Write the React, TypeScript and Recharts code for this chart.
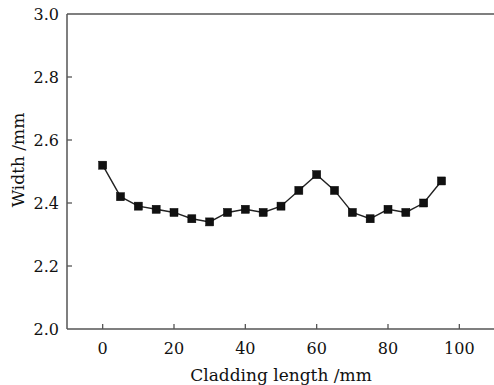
import React from "react";
import { LineChart, Line, XAxis, YAxis, ReferenceLine } from "recharts";

const claddingLength = [0, 5, 10, 15, 20, 25, 30, 35, 40, 45, 50, 55, 60, 65, 70, 75, 80, 85, 90, 95];
const widthValues = [2.52, 2.42, 2.39, 2.38, 2.37, 2.35, 2.34, 2.37, 2.38, 2.37, 2.39, 2.44, 2.49, 2.44, 2.37, 2.35, 2.38, 2.37, 2.40, 2.47];
const xTicks = [0, 20, 40, 60, 80, 100];
const yTicks = [2.0, 2.2, 2.4, 2.6, 2.8, 3.0];

const data = claddingLength.map((x, i) => ({ x, w: widthValues[i] }));

const FONT = "'DejaVu Serif', serif";
const AXIS = "#555";

const XTick = (props: any) => {
  const { x, y, payload } = props;
  return (
    <g>
      <line x1={x} x2={x} y1={y} y2={y - 5} stroke={AXIS} strokeWidth={1.3} />
      <text x={x} y={y + 25} textAnchor="middle" fontFamily={FONT} fontSize={16} fill="#111">
        {payload.value}
      </text>
    </g>
  );
};

const YTick = (props: any) => {
  const { x, y, payload } = props;
  const v = Number(payload.value);
  return (
    <g>
      {v > 2.0 && v < 3.0 && (
        <line x1={x} x2={x + 5} y1={y} y2={y} stroke={AXIS} strokeWidth={1.3} />
      )}
      <text x={x - 8} y={y} dy="0.36em" textAnchor="end" fontFamily={FONT} fontSize={16} fill="#111">
        {v.toFixed(1)}
      </text>
    </g>
  );
};

const SquareDot = (props: any) => {
  const { cx, cy } = props;
  if (cx == null || cy == null) return null;
  return <rect x={cx - 4} y={cy - 4} width={8} height={8} fill="#111" stroke="#000" strokeWidth={0.5} />;
};

const YLabel = () => (
  <text
    x={0}
    y={0}
    transform="translate(24, 160) rotate(-90)"
    textAnchor="middle"
    fontFamily={FONT}
    fontSize={17}
    fill="#111"
  >
    Width /mm
  </text>
);

export default function App() {
  return (
    <div style={{ position: "absolute", left: 0, top: 0, background: "#fff" }}>
      <LineChart
        width={500}
        height={385}
        data={data}
        margin={{ top: 14, right: 5, bottom: 0, left: 0 }}
      >
        <XAxis
          dataKey="x"
          type="number"
          domain={[-10, 110]}
          ticks={xTicks}
          tickSize={0}
          tickMargin={0}
          tickLine={false}
          height={56}
          axisLine={{ stroke: AXIS, strokeWidth: 1.5 }}
          tick={<XTick />}
          label={{
            value: "Cladding length /mm",
            position: "insideBottom",
            offset: 4,
            style: { fontFamily: FONT, fontSize: 17, fill: "#111" },
          }}
        />
        <YAxis
          type="number"
          domain={[2.0, 3.0]}
          ticks={yTicks}
          tickSize={0}
          tickMargin={0}
          tickLine={false}
          width={67}
          axisLine={{ stroke: AXIS, strokeWidth: 1.5 }}
          tick={<YTick />}
          label={<YLabel />}
        />
        <ReferenceLine y={3.0} stroke={AXIS} strokeWidth={1.5} />
        <ReferenceLine x={110} stroke={AXIS} strokeWidth={1.5} />
        <Line
          dataKey="w"
          stroke="#222"
          strokeWidth={1.4}
          dot={<SquareDot />}
          isAnimationActive={false}
        />
      </LineChart>
    </div>
  );
}
